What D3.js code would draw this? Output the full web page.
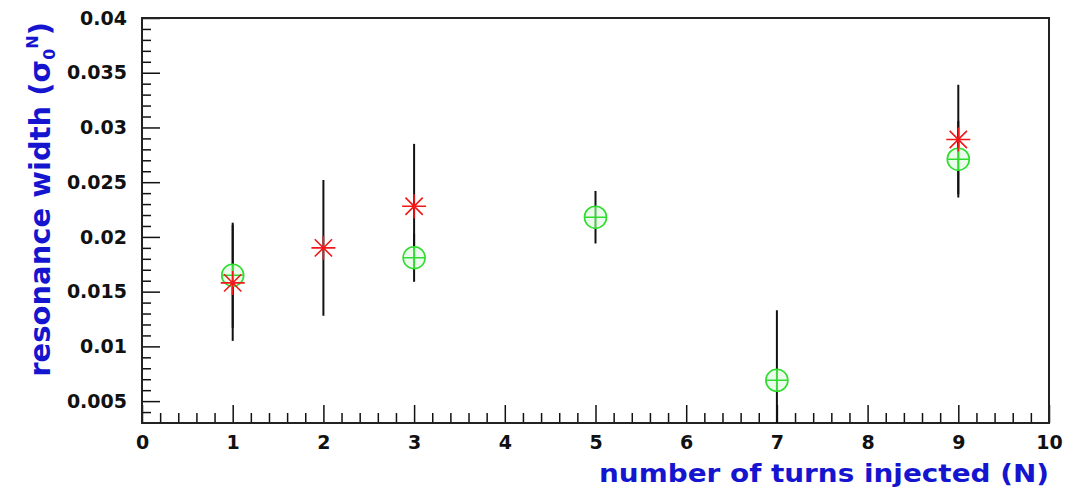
<html>
  <head>
    <script src="https://d3js.org/d3.v7.min.js"></script>
    <style>
      body { margin: 0; background: white; }
      .tick text { font-family: "DejaVu Sans", sans-serif; font-weight: bold; font-size: 19px; fill: #111; }
      .tick line { stroke: #111; stroke-width: 1.5; }
      .title { font-family: "DejaVu Sans", sans-serif; font-weight: bold; fill: #1515d0; }
    </style>
  </head>
  <body>
    <script type="text/javascript">
      // red stars
      var nRed = [1, 2, 3, 9];
      var red = [0.0158, 0.0190, 0.0228, 0.0289];
      var redErr = [0.0053, 0.0062, 0.0057, 0.0050];

      // green circles
      var nGreen = [1, 3, 5, 7, 9];
      var green = [0.0165, 0.0181, 0.0218, 0.0069, 0.0271];
      var greenErr = [0.0048, 0.0022, 0.0024, 0.0064, 0.0035];

      var xTicks = [0, 1, 2, 3, 4, 5, 6, 7, 8, 9, 10];
      var yTicks = [0.005, 0.01, 0.015, 0.02, 0.025, 0.03, 0.035, 0.04];

      var width = 1077, height = 501;
      var svg = d3.select("body").append("svg")
        .attr("width", width)
        .attr("height", height);

      var x = d3.scaleLinear().domain([0, 10]).range([142, 1049]);
      var y = d3.scaleLinear().domain([0.003, 0.04]).range([423, 18]);

      // minor ticks
      var xMinor = d3.range(0, 10.001, 0.2).filter(function (d) { return Math.abs(d - Math.round(d)) > 0.01; });
      var yMinor = d3.range(0.004, 0.0401, 0.001).filter(function (d) { return Math.abs(d * 200 - Math.round(d * 200)) > 0.01; });

      svg.append("g")
        .attr("transform", "translate(0," + y.range()[0] + ")")
        .call(d3.axisBottom(x).tickValues(xMinor).tickFormat("").tickSize(-10))
        .call(function (g) { g.select(".domain").remove(); });

      svg.append("g")
        .attr("transform", "translate(" + x.range()[0] + ",0)")
        .call(d3.axisLeft(y).tickValues(yMinor).tickFormat("").tickSize(-9))
        .call(function (g) { g.select(".domain").remove(); });

      // major ticks
      svg.append("g")
        .attr("transform", "translate(0," + y.range()[0] + ")")
        .call(d3.axisBottom(x).tickValues(xTicks).tickFormat(d3.format("d")).tickSize(-18).tickPadding(13))
        .call(function (g) { g.select(".domain").remove(); });

      svg.append("g")
        .attr("transform", "translate(" + x.range()[0] + ",0)")
        .call(d3.axisLeft(y).tickValues(yTicks).tickFormat(function (d) { return String(+d.toFixed(3)); }).tickSize(-18).tickPadding(15))
        .call(function (g) { g.select(".domain").remove(); });

      // frame
      svg.append("rect")
        .attr("x", x.range()[0])
        .attr("y", y.range()[1])
        .attr("width", x.range()[1] - x.range()[0])
        .attr("height", y.range()[0] - y.range()[1])
        .attr("fill", "none")
        .attr("stroke", "#222")
        .attr("stroke-width", 2);

      var ymin = y.domain()[0];

      // error bars
      function errorBars(ns, vals, errs) {
        svg.append("g").selectAll("line")
          .data(ns)
          .enter().append("line")
          .attr("x1", function (d) { return x(d); })
          .attr("x2", function (d) { return x(d); })
          .attr("y1", function (d, i) { return y(Math.max(ymin, vals[i] - errs[i])); })
          .attr("y2", function (d, i) { return y(vals[i] + errs[i]); })
          .attr("stroke", "#111")
          .attr("stroke-width", 2);
      }
      errorBars(nRed, red, redErr);
      errorBars(nGreen, green, greenErr);

      // green circles with cross
      var r = 11;
      var gm = svg.append("g").selectAll("g")
        .data(nGreen)
        .enter().append("g")
        .attr("transform", function (d, i) { return "translate(" + x(d) + "," + y(green[i]) + ")"; });
      gm.append("circle")
        .attr("r", r)
        .attr("fill", "#e4fbe4")
        .attr("fill-opacity", 0.7)
        .attr("stroke", "#2fdc2f")
        .attr("stroke-width", 1.6);
      gm.append("path")
        .attr("d", "M" + (-r) + ",0H" + r + "M0," + (-r) + "V" + r)
        .attr("stroke", "#2fdc2f")
        .attr("stroke-width", 1.6);

      // red stars
      var s = 12, sd = s * 0.72;
      svg.append("g").selectAll("path")
        .data(nRed)
        .enter().append("path")
        .attr("transform", function (d, i) { return "translate(" + x(d) + "," + y(red[i]) + ")"; })
        .attr("d", "M" + (-s) + ",0H" + s + "M0," + (-s) + "V" + s +
                   "M" + (-sd) + "," + (-sd) + "L" + sd + "," + sd +
                   "M" + (-sd) + "," + sd + "L" + sd + "," + (-sd))
        .attr("stroke", "#f01818")
        .attr("stroke-width", 1.6);

      // axis titles
      svg.append("text")
        .attr("class", "title")
        .attr("x", 1049)
        .attr("y", 482)
        .attr("text-anchor", "end")
        .attr("font-size", "25px")
        .attr("textLength", 450)
        .attr("lengthAdjust", "spacingAndGlyphs")
        .text("number of turns injected (N)");

      var yt = svg.append("text")
        .attr("class", "title")
        .attr("transform", "translate(50,22) rotate(-90)")
        .attr("text-anchor", "end")
        .attr("font-size", "29px");
      yt.append("tspan").text("resonance width (σ");
      yt.append("tspan").attr("font-size", "16px").attr("dy", "5").text("0");
      yt.append("tspan").attr("font-size", "16px").attr("dy", "-17").text("N");
      yt.append("tspan").attr("dy", "12").text(")");
    </script>
  </body>
</html>
